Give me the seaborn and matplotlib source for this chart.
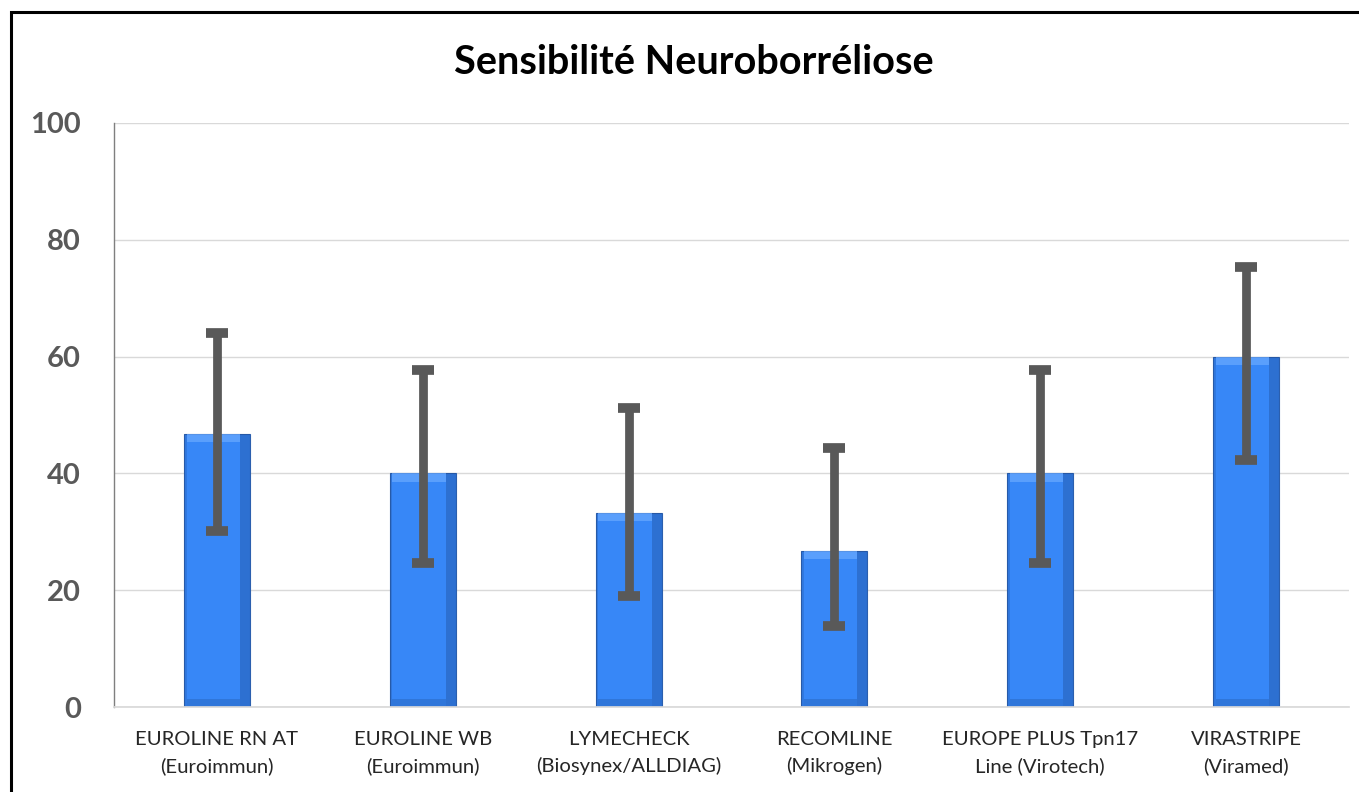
import matplotlib
matplotlib.use("Agg")
import matplotlib.pyplot as plt
from matplotlib.patches import Rectangle
import numpy as np
import pandas as pd
import seaborn as sns

sns.set_theme(style="white")
plt.rcParams["font.family"] = ["Lato", "DejaVu Sans"]

# data
tests = [
    "EUROLINE RN AT\n(Euroimmun)",
    "EUROLINE WB\n(Euroimmun)",
    "LYMECHECK\n(Biosynex/ALLDIAG)",
    "RECOMLINE\n(Mikrogen)",
    "EUROPE PLUS Tpn17\nLine (Virotech)",
    "VIRASTRIPE\n(Viramed)",
]
sensitivity = [46.7, 40.0, 33.3, 26.7, 40.0, 60.0]
ci_low = [30.1, 24.6, 19.0, 13.9, 24.6, 42.3]
ci_high = [64.0, 57.7, 51.2, 44.3, 57.7, 75.3]

BAR = "#3787F7"
GREY = "#595959"

df = pd.DataFrame({"test": tests, "sens": sensitivity})

fig = plt.figure(figsize=(13.59, 7.92), dpi=100)
ax = fig.add_axes([0.0839, 0.1073, 0.9087, 0.7374])

sns.barplot(data=df, x="test", y="sens", color=BAR, saturation=1,
            width=0.32, errorbar=None, ax=ax, zorder=2)

# fake the bevel look of the original bars
for p in list(ax.patches):
    x, y, w, h = p.get_x(), p.get_y(), p.get_width(), p.get_height()
    p.set_edgecolor("#2b5fae")
    p.set_linewidth(0.8)
    ax.add_patch(Rectangle((x + w * 0.85, y), w * 0.15, h, color="#1f4f9a",
                           alpha=0.4, lw=0, zorder=2.1))
    ax.add_patch(Rectangle((x, y), w * 0.04, h, color="#1f4f9a",
                           alpha=0.25, lw=0, zorder=2.1))
    ax.add_patch(Rectangle((x + w * 0.04, y + h - 1.4), w * 0.81, 1.4,
                           color="#6aaaff", alpha=0.7, lw=0, zorder=2.1))
    ax.add_patch(Rectangle((x + w * 0.04, y), w * 0.81, 1.3,
                           color="#1f4f9a", alpha=0.3, lw=0, zorder=2.1))

xs = np.arange(len(tests))
sens = np.array(sensitivity)
yerr = [sens - np.array(ci_low), np.array(ci_high) - sens]
ax.errorbar(xs, sens, yerr=yerr, fmt="none", ecolor=GREY, elinewidth=6.3,
            capsize=8, capthick=7, zorder=3)

ax.set_xlim(-0.5, len(tests) - 0.5)
ax.set_ylim(0, 100)
ax.set_yticks([0, 20, 40, 60, 80, 100])
ax.yaxis.grid(True, color="#D9D9D9", linewidth=1)
ax.set_axisbelow(True)
ax.set_xlabel("")
ax.set_ylabel("")
for s in ["top", "right"]:
    ax.spines[s].set_visible(False)
ax.spines["bottom"].set_color("#D9D9D9")
ax.spines["left"].set_color("#7f7f7f")
ax.spines["left"].set_linewidth(1)
ax.tick_params(axis="y", length=0, pad=24, labelsize=21, labelcolor=GREY)
ax.tick_params(axis="x", length=0, pad=17, labelsize=14.6, labelcolor="#262626")
for t in ax.get_yticklabels():
    t.set_fontweight("bold")
for t in ax.get_xticklabels():
    t.set_linespacing(1.65)

fig.text(694 / 1359, 1 - 62 / 792, "Sensibilité Neuroborréliose",
         ha="center", va="center", fontsize=28.5, fontweight="bold",
         color="black")

# outer frame (cut off on the right and bottom in the reference)
fig.patches.append(Rectangle((11 / 1359, -0.05), 1.0, 1 - 12 / 792 + 0.05,
                             transform=fig.transFigure, fill=False,
                             edgecolor="black", linewidth=2.2))

fig.savefig("out.png", dpi=100)
